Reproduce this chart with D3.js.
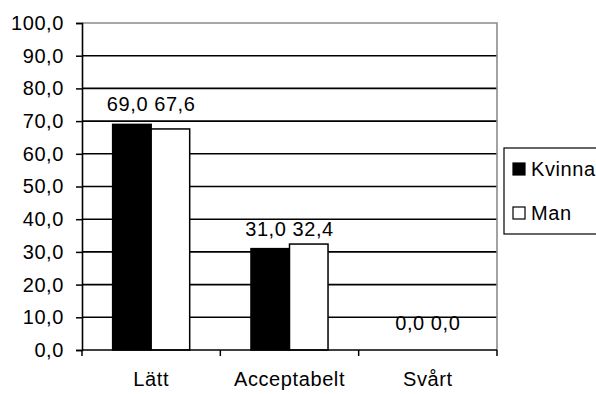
<!DOCTYPE html>
<html>
<head>
<meta charset="utf-8">
<script src="https://cdn.jsdelivr.net/npm/d3@7"></script>
<style>
  html, body { margin: 0; padding: 0; background: #fff; }
  svg text { font-family: Arial, "Liberation Sans", sans-serif; font-size: 20px; letter-spacing: 0.6px; fill: #000; }
</style>
</head>
<body>
<svg id="chart" width="596" height="394"></svg>
<script>
// Survey answers by gender (percent)
const categories = ["Lätt", "Acceptabelt", "Svårt"];
const seriesNames = ["Kvinna", "Man"];
const kvinnaValues = [69.0, 31.0, 0.0];
const manValues = [67.6, 32.4, 0.0];
const yTicks = [0, 10, 20, 30, 40, 50, 60, 70, 80, 90, 100];
const seriesFill = ["#000000", "#ffffff"];

const svg = d3.select("#chart");
const plot = { left: 82, right: 497, top: 23, bottom: 350 };

const fmt = v => v.toFixed(1).replace(".", ",");

const y = d3.scaleLinear().domain([0, 100]).range([plot.bottom, plot.top]);
const x0 = d3.scaleBand().domain(categories)
  .range([plot.left, plot.right]).paddingInner(0.443).paddingOuter(0.2215);
const x1 = d3.scaleBand().domain(seriesNames).range([0, x0.bandwidth()]);

const rows = categories.map((c, i) => ({
  category: c,
  values: [kvinnaValues[i], manValues[i]]
}));

// Horizontal gridlines
svg.append("g").selectAll("line")
  .data(yTicks.filter(t => t > 0 && t < 100))
  .join("line")
  .attr("x1", plot.left).attr("x2", plot.right)
  .attr("y1", d => y(d)).attr("y2", d => y(d))
  .attr("stroke", "#000").attr("stroke-width", 1.6);

// Plot frame: grey top and right edges
svg.append("path")
  .attr("d", `M${plot.left},${plot.top}H${plot.right}V${plot.bottom}`)
  .attr("fill", "none").attr("stroke", "#8c8c8c").attr("stroke-width", 1.6);

// Bars
const groups = svg.append("g").selectAll("g")
  .data(rows).join("g")
  .attr("transform", d => `translate(${x0(d.category)},0)`);

groups.selectAll("rect")
  .data(d => d.values.map((v, i) => ({ series: seriesNames[i], value: v, i })))
  .join("rect")
  .attr("x", d => x1(d.series))
  .attr("y", d => y(d.value))
  .attr("width", x1.bandwidth())
  .attr("height", d => y(0) - y(d.value))
  .attr("fill", d => seriesFill[d.i])
  .attr("stroke", "#000").attr("stroke-width", 1.5);

// Value labels: one row per category, split around the group centre
const mid = x0.bandwidth() / 2;
groups.selectAll("text")
  .data(d => d.values.map((v, i) => ({ value: v, i, lead: d.values[0] })))
  .join("text")
  .attr("x", d => d.i === 0 ? mid - 3 : mid + 3)
  .attr("y", d => Math.min(y(d.lead) - 13, plot.bottom - 20))
  .attr("text-anchor", d => d.i === 0 ? "end" : "start")
  .text(d => fmt(d.value));

// Y axis
const yAxis = svg.append("g")
  .attr("transform", `translate(${plot.left},0)`)
  .call(d3.axisLeft(y).tickValues(yTicks).tickFormat(fmt).tickSize(6).tickPadding(12));
yAxis.select(".domain").attr("stroke", "#000").attr("stroke-width", 1.6);
yAxis.selectAll(".tick line").attr("stroke", "#000").attr("stroke-width", 1.5);
yAxis.selectAll(".tick text")
  .style("font-size", "20px")
  .style("font-family", "Arial, 'Liberation Sans', sans-serif");

// X axis with ticks at category boundaries
const xAxisG = svg.append("g");
xAxisG.append("line")
  .attr("x1", plot.left).attr("x2", plot.right)
  .attr("y1", plot.bottom).attr("y2", plot.bottom)
  .attr("stroke", "#000").attr("stroke-width", 1.6);
const step = x0.step();
xAxisG.selectAll("line.tick")
  .data(d3.range(categories.length + 1))
  .join("line").attr("class", "tick")
  .attr("x1", i => plot.left + i * step).attr("x2", i => plot.left + i * step)
  .attr("y1", plot.bottom).attr("y2", plot.bottom + 6)
  .attr("stroke", "#000").attr("stroke-width", 1.5);
xAxisG.selectAll("text")
  .data(categories).join("text")
  .attr("x", d => x0(d) + x0.bandwidth() / 2)
  .attr("y", 386)
  .attr("text-anchor", "middle")
  .text(d => d);

// Legend
const legend = svg.append("g").attr("transform", "translate(504,148)");
legend.append("rect")
  .attr("width", 110).attr("height", 86)
  .attr("fill", "#fff").attr("stroke", "#000").attr("stroke-width", 1.2);
const items = legend.selectAll("g.item")
  .data(seriesNames).join("g").attr("class", "item")
  .attr("transform", (d, i) => `translate(9,${15 + i * 44})`);
items.append("rect")
  .attr("width", 12).attr("height", 12)
  .attr("fill", (d, i) => seriesFill[i]).attr("stroke", "#000").attr("stroke-width", 1.2);
items.append("text")
  .attr("x", 18).attr("y", 13)
  .text(d => d);
</script>
</body>
</html>
